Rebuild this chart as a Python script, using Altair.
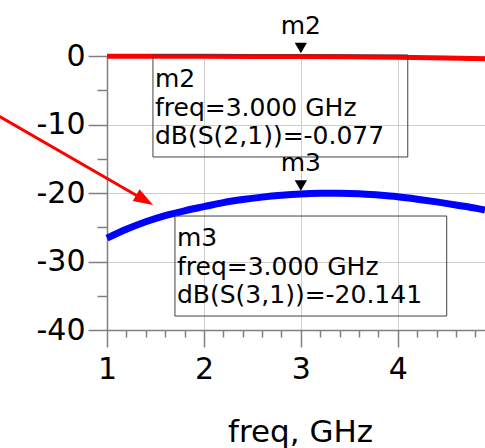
import altair as alt
import pandas as pd

# S(2,1) trace (red)
freq_s21 = [1.0, 1.5, 2.0, 2.5, 3.0, 3.5, 4.0, 4.5, 4.9]
db_s21 = [-0.03, -0.035, -0.045, -0.06, -0.077, -0.12, -0.2, -0.3, -0.4]

# S(3,1) trace (blue)
freq_s31 = [1.0, 1.2, 1.4, 1.6, 1.8, 2.0, 2.2, 2.4, 2.6, 2.8, 3.0, 3.2, 3.4,
            3.6, 3.8, 4.0, 4.2, 4.4, 4.6, 4.8, 4.9]
db_s31 = [-26.6, -25.3, -24.2, -23.3, -22.6, -22.0, -21.4, -20.95, -20.6, -20.33,
          -20.141, -20.05, -20.03, -20.1, -20.3, -20.55, -20.9, -21.3, -21.75,
          -22.2, -22.5]

# markers
marker_names = ["m2", "m3"]
marker_freq = [3.0, 3.0]
marker_db = [-0.077, -20.141]
marker_text = [["m2", "freq=3.000 GHz", "dB(S(2,1))=-0.077"],
               ["m3", "freq=3.000 GHz", "dB(S(3,1))=-20.141"]]
box_x1 = [1.474, 1.701]
box_x2 = [4.103, 4.505]
box_y1 = [0.15, -23.36]
box_y2 = [-14.74, -37.96]
text_x = [1.495, 1.722]
text_y = [-4.53, -27.74]

# arrow annotation
arrow_from = (-0.2, -8.1)
arrow_to = (1.31, -20.4)
arrow_head = (1.388, -21.03)
arrow_angle = [30]

x_major = [1, 2, 3, 4]
x_minor = [1.2, 1.4, 1.6, 1.8, 2.2, 2.4, 2.6, 2.8, 3.2, 3.4, 3.6, 3.8, 4.2, 4.4, 4.6, 4.8]
y_major = [0, -10, -20, -30, -40]
y_minor = [-5, -15, -25, -35]

FONT = "DejaVu Sans"
AX = "#808080"

xscale = alt.Scale(domain=[1, 4.9], nice=False, zero=False)
yscale = alt.Scale(domain=[-40, 0], nice=False, zero=False)

df21 = pd.DataFrame({"freq": freq_s21, "db": db_s21})
df31 = pd.DataFrame({"freq": freq_s31, "db": db_s31})
dfm = pd.DataFrame({
    "name": marker_names, "freq": marker_freq, "db": marker_db,
    "text": marker_text, "bx1": box_x1, "bx2": box_x2, "by1": box_y1, "by2": box_y2,
    "tx": text_x, "ty": text_y,
})
dfa = pd.DataFrame({"x": [arrow_from[0]], "y": [arrow_from[1]],
                    "x2": [arrow_to[0]], "y2": [arrow_to[1]],
                    "hx": [arrow_head[0]], "hy": [arrow_head[1]],
                    "ang": arrow_angle})

blue = alt.Chart(df31).mark_line(color="#0000ff", strokeWidth=7, interpolate="monotone").encode(
    x=alt.X("freq:Q", scale=xscale, axis=alt.Axis(
        values=x_major, orient="bottom", title="freq, GHz", titleFont=FONT, titleFontSize=31,
        titleFontWeight="normal", titleColor="black", titleBaseline="alphabetic",
        titleY=111, titleX=193, titleAngle=0,
        labelFont=FONT, labelFontSize=30, labelColor="black", labelPadding=7,
        tickSize=17, tickColor=AX, tickWidth=1.5, domainColor=AX, domainWidth=1.5,
        grid=True, gridColor="#cfcfcf", gridWidth=1, labelFlush=False,
        labelExpr="'' + datum.value")),
    y=alt.Y("db:Q", scale=yscale, axis=alt.Axis(
        values=y_major, orient="left", title=None,
        labelFont=FONT, labelFontSize=30, labelColor="black", labelPadding=3,
        tickSize=19, tickColor=AX, tickWidth=1.5, domainColor=AX, domainWidth=1.5,
        grid=True, gridColor="#cfcfcf", gridWidth=1, labelFlush=False,
        labelExpr="'' + datum.value")),
)

red = alt.Chart(df21).mark_line(color="#ff0000", strokeWidth=5).encode(
    x=alt.X("freq:Q", scale=xscale, axis=alt.Axis(
        values=x_minor, orient="bottom", title=None, labels=False, domain=False,
        grid=False, tickSize=7, tickColor=AX, tickWidth=1.5)),
    y=alt.Y("db:Q", scale=yscale, axis=alt.Axis(
        values=y_minor, orient="left", title=None, labels=False, domain=False,
        grid=False, tickSize=10, tickColor=AX, tickWidth=1.5)),
)

boxes = alt.Chart(dfm).mark_rect(fill=None, stroke="#404040", strokeWidth=1).encode(
    x=alt.X("bx1:Q", scale=xscale, axis=None), x2="bx2:Q",
    y=alt.Y("by1:Q", scale=yscale, axis=None), y2="by2:Q",
)

box_text = alt.Chart(dfm).mark_text(
    align="left", baseline="alphabetic", font=FONT, fontSize=25, color="black",
    lineHeight=28.5,
).encode(
    x=alt.X("tx:Q", scale=xscale, axis=None),
    y=alt.Y("ty:Q", scale=yscale, axis=None),
    text="text",
)

tri = alt.Chart(dfm).mark_point(shape="triangle-down", filled=True, color="black",
                                 size=150, opacity=1, yOffset=-8.5).encode(
    x=alt.X("freq:Q", scale=xscale, axis=None),
    y=alt.Y("db:Q", scale=yscale, axis=None),
)

tri_label = alt.Chart(dfm).mark_text(font=FONT, fontSize=25, color="black",
                                     baseline="alphabetic", align="center", dy=-23).encode(
    x=alt.X("freq:Q", scale=xscale, axis=None),
    y=alt.Y("db:Q", scale=yscale, axis=None),
    text="name",
)

arrow = alt.Chart(dfa).mark_rule(color="#ff0000", strokeWidth=3).encode(
    x=alt.X("x:Q", scale=xscale, axis=None), x2="x2:Q",
    y=alt.Y("y:Q", scale=yscale, axis=None), y2="y2:Q",
)
arrow_head_mark = alt.Chart(dfa).mark_point(shape="M-1,-0.7L1,0L-1,0.7Z", filled=True,
                                            color="#ff0000", size=380,
                                            opacity=1).encode(
    x=alt.X("hx:Q", scale=xscale, axis=None),
    y=alt.Y("hy:Q", scale=yscale, axis=None),
    angle=alt.Angle("ang:Q", scale=None),
)

chart = alt.layer(
    blue, red, boxes, box_text, tri, tri_label, arrow, arrow_head_mark
).resolve_axis(x="independent", y="independent").properties(
    width=378, height=274,
    autosize=alt.AutoSizeParams(type="none"),
    padding={"left": 107, "top": 56, "right": 0, "bottom": 118},
    background="white",
).configure_view(stroke=None)

chart.save("out.html", embed_options={"renderer": "svg", "actions": False})
